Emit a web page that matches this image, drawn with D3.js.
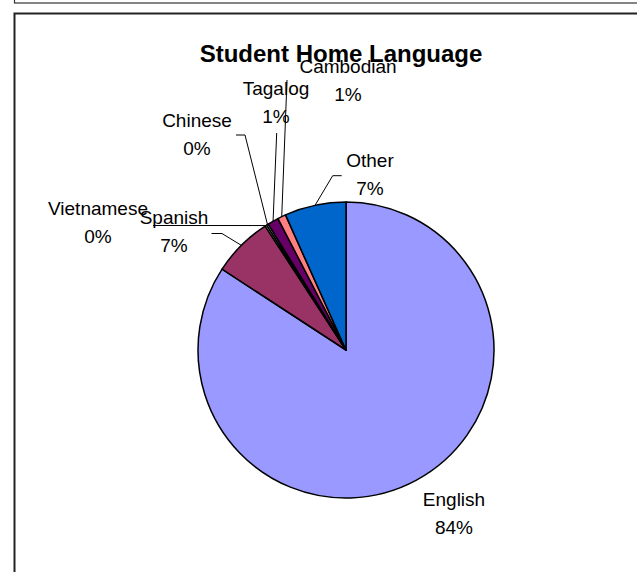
<!DOCTYPE html>
<html>
<head>
<meta charset="utf-8">
<script src="https://cdn.jsdelivr.net/npm/d3@7"></script>
<style>
  body { margin: 0; background: #fff; }
  svg { display: block; }
</style>
</head>
<body>
<svg id="chart"></svg>
<script>
// data (students per home language)
const categories = ["English", "Spanish", "Vietnamese", "Chinese", "Tagalog", "Cambodian", "Other"]
const counts = [842, 66, 2, 2, 12, 9, 67]
const colors = ["#9999FF", "#993366", "#FFFFCC", "#CCFFFF", "#660066", "#FF8080", "#0066CC"]

// label placement (Excel moved these by hand), [x, baseline] of the name line
const labelPos = {
    English: [454, 506],
    Spanish: [174, 224],
    Vietnamese: [98, 215],
    Chinese: [197, 127],
    Tagalog: [276, 95],
    Cambodian: [348, 73],
    Other: [370, 167]
}
// leader lines: points after the arc point
const leaders = {
    Vietnamese: [[153, 225.5]],
    Spanish: [[222, 233.5], [211.5, 233.5]],
    Chinese: [[245, 135], [236, 135]],
    Tagalog: [[276.7, 133]],
    Cambodian: [[287, 80]],
    Other: [[332.7, 175.7], [341.7, 175.7]]
}

const width = 637, height = 572
const cx = 346, cy = 350, radius = 148
const font = "'Liberation Sans', Arial, sans-serif"

const svg = d3.select("#chart")
    .attr("width", width)
    .attr("height", height)

// frames
svg.append("rect")
    .attr("x", 14.5).attr("y", -10)
    .attr("width", 700).attr("height", 13)
    .attr("fill", "none").attr("stroke", "#333").attr("stroke-width", 1.2)
svg.append("rect")
    .attr("x", 14.5).attr("y", 13.5)
    .attr("width", 700).attr("height", 700)
    .attr("fill", "none").attr("stroke", "#222").attr("stroke-width", 2)

svg.append("text")
    .attr("x", 341).attr("y", 62)
    .attr("text-anchor", "middle")
    .attr("font-family", font)
    .attr("font-weight", "bold")
    .attr("font-size", "24px")
    .text("Student Home Language")

const data = categories.map((c, i) => ({ name: c, value: counts[i], color: colors[i] }))
const total = d3.sum(counts)

const pie = d3.pie().sort(null).value(d => d.value)
const arcs = pie(data)
const arc = d3.arc().innerRadius(0).outerRadius(radius)

const g = svg.append("g").attr("transform", `translate(${cx},${cy})`)

g.selectAll("path")
    .data(arcs)
    .join("path")
    .attr("d", arc)
    .attr("fill", d => d.data.color)
    .attr("stroke", "#000")
    .attr("stroke-width", 1.5)
    .attr("stroke-linejoin", "round")

// leader lines from the middle of each slice on the rim
const line = d3.line()
svg.append("g")
    .selectAll("path")
    .data(arcs.filter(d => leaders[d.data.name]))
    .join("path")
    .attr("d", d => {
        const a = (d.startAngle + d.endAngle) / 2
        const p = [cx + radius * Math.sin(a), cy - radius * Math.cos(a)]
        return line([p, ...leaders[d.data.name]])
    })
    .attr("fill", "none")
    .attr("stroke", "#000")
    .attr("stroke-width", 1)

const labels = svg.append("g")
    .attr("font-family", font)
    .attr("font-size", "19px")
    .attr("text-anchor", "middle")
    .attr("fill", "#000")
    .selectAll("text")
    .data(arcs)
    .join("text")
    .attr("x", d => labelPos[d.data.name][0])
    .attr("y", d => labelPos[d.data.name][1])

labels.append("tspan")
    .text(d => d.data.name)
labels.append("tspan")
    .attr("x", d => labelPos[d.data.name][0])
    .attr("dy", 27.5)
    .text(d => Math.round(d.data.value / total * 100) + "%")
</script>
</body>
</html>
